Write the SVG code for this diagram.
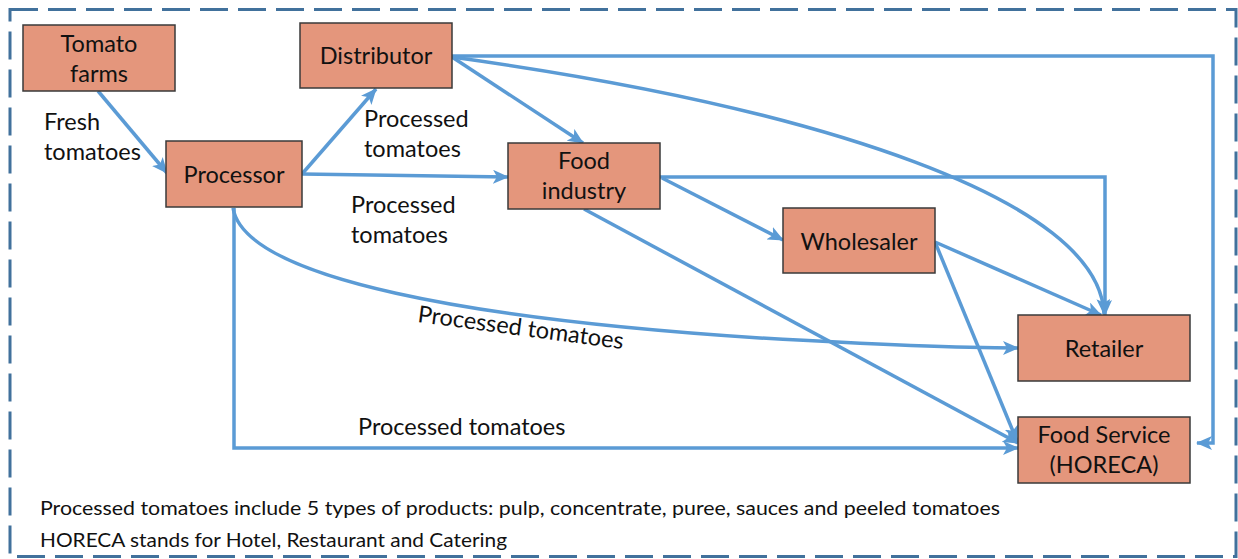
<svg xmlns="http://www.w3.org/2000/svg" width="1238" height="559" viewBox="0 0 1238 559">
<style>
.box{fill:#E4967C;stroke:#3a3a3a;stroke-width:1.5}
.lbl{font-family:Lato,"Liberation Sans",sans-serif;font-size:23.5px;fill:#111}
.nd{text-anchor:middle}
.ft{font-family:Lato,"Liberation Sans",sans-serif;font-size:19px;fill:#111}
.c{fill:none;stroke:#5B9BD5;stroke-width:3.5;marker-end:url(#ah)}
</style>
<defs>
<marker id="ah" markerUnits="userSpaceOnUse" markerWidth="16" markerHeight="14" viewBox="0 0 16 14" refX="15" refY="7" orient="auto">
<path d="M0,0 L16,7 L0,14 L4,7 Z" fill="#5B9BD5"/>
</marker>
</defs>
<rect x="10" y="9.5" width="1226" height="547" fill="none" stroke="#41719C" stroke-width="3" stroke-dasharray="28,10"/>
<g id="connectors">
<path class="c" d="M98,91 L167,173"/>
<path class="c" d="M302,174 L376,89"/>
<path class="c" d="M302,174 L508,177"/>
<path class="c" d="M452,57 L583,143"/>
<path class="c" d="M452,56 L1213,56 L1213,443 L1197,443"/>
<path class="c" d="M452,57 C820,108 1100,200 1104,314"/>
<path class="c" d="M660,177 L1105,177 L1105,315"/>
<path class="c" d="M662,178 L783,240"/>
<path class="c" d="M584,209 L1018,443"/>
<path class="c" d="M935,242 L1101,315"/>
<path class="c" d="M935,242 L1017,441"/>
<path class="c" d="M233,208 C245,280 480,320 760,338 C880,345 950,348 1018,348"/>
<path class="c" d="M234,208 L234,448 L1018,448"/>
</g>
<g id="tomato-farms"><rect class="box" x="23" y="25" width="152" height="66"/><text class="lbl nd" x="99" y="52">Tomato</text><text class="lbl nd" x="99" y="82">farms</text></g>
<g id="distributor"><rect class="box" x="300" y="23" width="152" height="65"/><text class="lbl nd" x="376" y="64">Distributor</text></g>
<g id="processor"><rect class="box" x="166" y="141" width="136" height="66"/><text class="lbl nd" x="234" y="183">Processor</text></g>
<g id="food-industry"><rect class="box" x="508" y="143" width="152" height="66"/><text class="lbl nd" x="584" y="169">Food</text><text class="lbl nd" x="584" y="199">industry</text></g>
<g id="wholesaler"><rect class="box" x="783" y="208" width="152" height="65"/><text class="lbl nd" x="859" y="250">Wholesaler</text></g>
<g id="retailer"><rect class="box" x="1018" y="315" width="172" height="66"/><text class="lbl nd" x="1104" y="357">Retailer</text></g>
<g id="food-service"><rect class="box" x="1018" y="417" width="172" height="66"/><text class="lbl nd" x="1104" y="443">Food Service</text><text class="lbl nd" x="1104" y="473">(HORECA)</text></g>
<g id="labels">
<text class="lbl" x="44" y="130">Fresh</text>
<text class="lbl" x="44" y="160">tomatoes</text>
<text class="lbl" x="364" y="127">Processed</text>
<text class="lbl" x="364" y="157">tomatoes</text>
<text class="lbl" x="351" y="213">Processed</text>
<text class="lbl" x="351" y="243">tomatoes</text>
<text class="lbl" transform="translate(417,322) rotate(7.5)">Processed tomatoes</text>
<text class="lbl" x="358" y="435">Processed tomatoes</text>
<text class="ft" x="40" y="515" textLength="960" lengthAdjust="spacingAndGlyphs">Processed tomatoes include 5 types of products: pulp, concentrate, puree, sauces and peeled tomatoes</text>
<text class="ft" x="40" y="547" textLength="467" lengthAdjust="spacingAndGlyphs">HORECA stands for Hotel, Restaurant and Catering</text>
</g>
</svg>
